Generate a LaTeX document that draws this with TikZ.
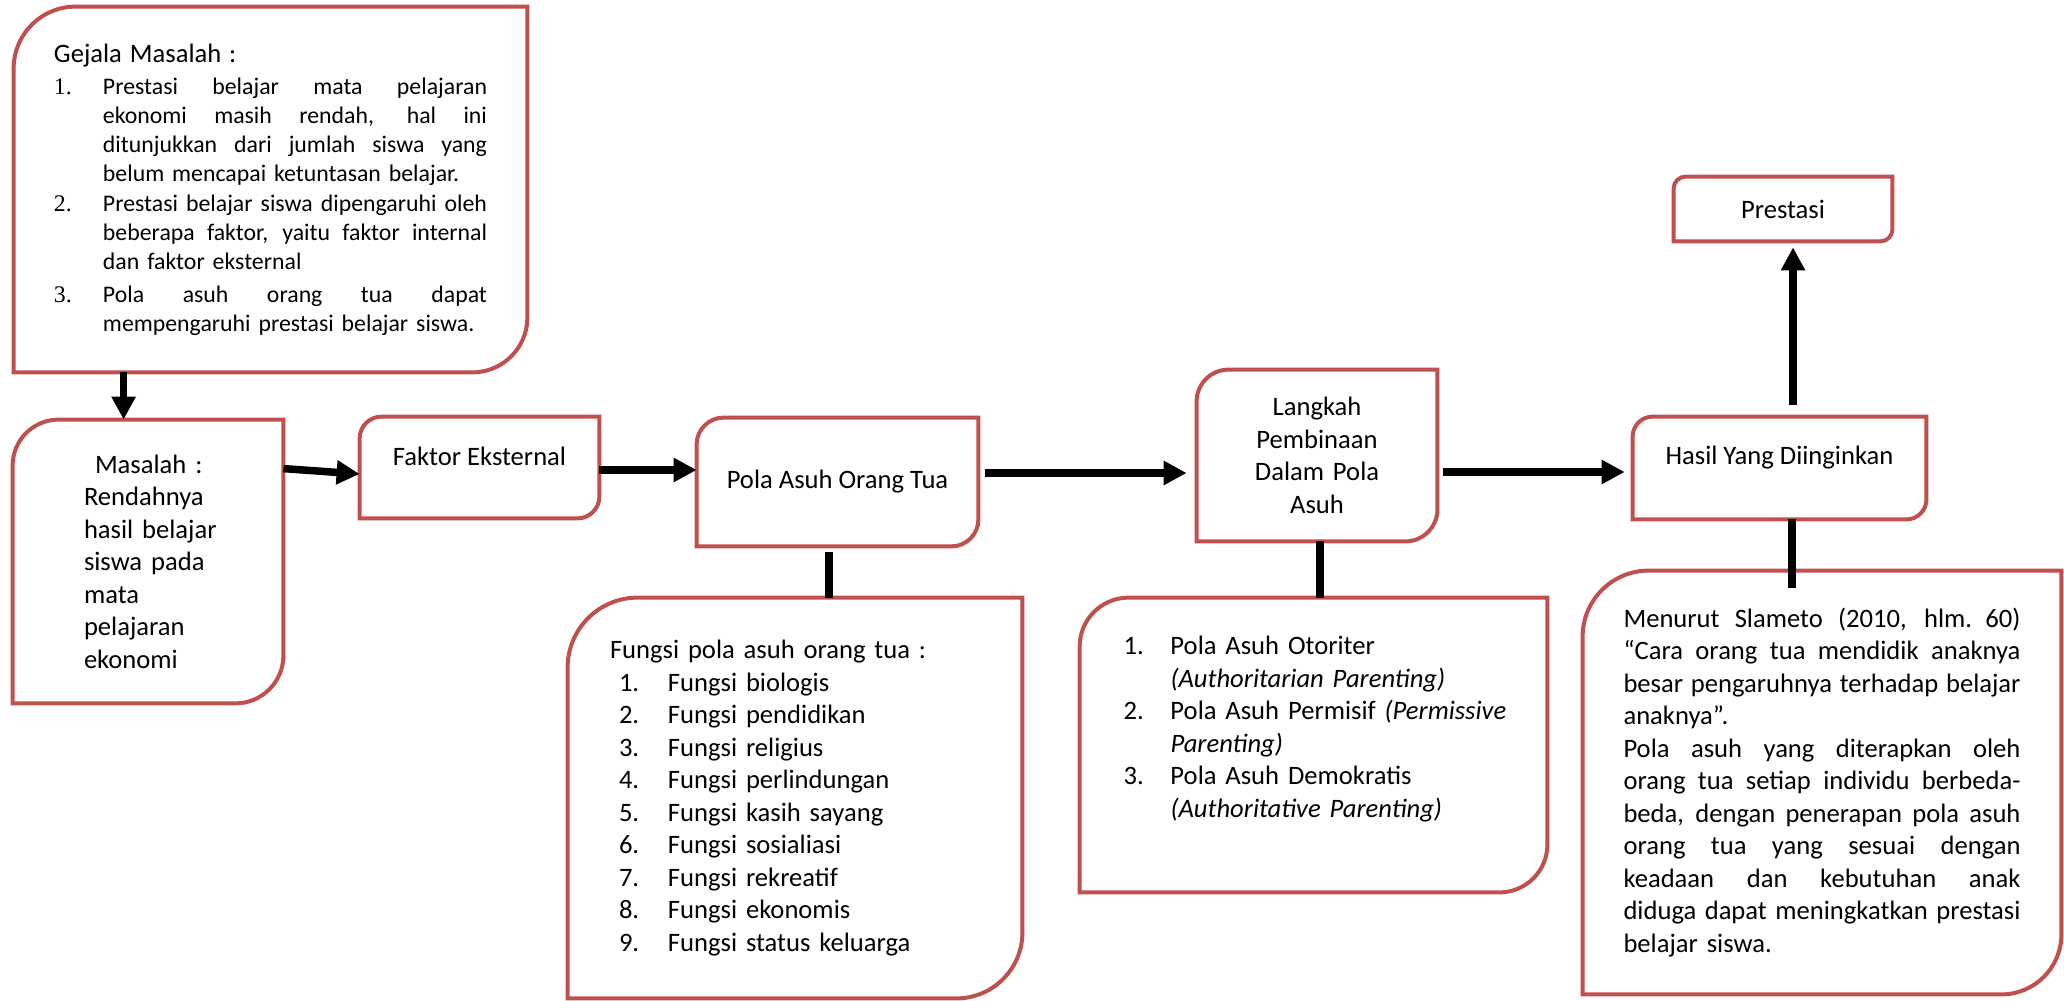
\documentclass[tikz,border=0pt]{standalone}
\usepackage{fontspec}
\setmainfont{Carlito}
\newfontfamily\numfont{Liberation Serif}
\usetikzlibrary{arrows.meta}
\definecolor{boxred}{HTML}{C0504D}
\newcommand{\bodyfont}{\fontsize{13.3pt}{16.25pt}\selectfont}
\newcommand{\gejalafont}{\fontsize{11.9pt}{14.5pt}\selectfont}
% a justified line of fixed width
\newcommand{\spread}[2]{\leavevmode\hbox to #1{\spaceskip=.226em plus 1fil\relax #2}}

\begin{document}
\begin{tikzpicture}[x=0.5pt, y=-0.5pt,
  panel/.style={inner sep=0pt, font=\bodyfont},
  boxline/.style={draw=boxred, line width=2pt},
  flow/.style={line width=3.75pt, -{Triangle[length=11.5pt, width=11.5pt]}},
  link/.style={line width=3.75pt}]
\useasboundingbox (0,0) rectangle (2064,1000);

% boxes
\node[panel, font=\gejalafont, minimum width=256.5pt, minimum height=182.5pt, text width=216.5pt] (gejala) at (270.5,189.5) {%
{\bodyfont Gejala Masalah :}\\[1.5pt]
\makebox[24.5pt][l]{\numfont 1.}\spread{192pt}{Prestasi belajar mata pelajaran}\\
\hspace*{24.5pt}\spread{192pt}{ekonomi masih rendah, hal ini}\\
\hspace*{24.5pt}\spread{192pt}{ditunjukkan dari jumlah siswa yang}\\
\hspace*{24.5pt}belum mencapai ketuntasan belajar.\\[0.5pt]
\makebox[24.5pt][l]{\numfont 2.}\spread{192pt}{Prestasi belajar siswa dipengaruhi oleh}\\
\hspace*{24.5pt}\spread{192pt}{beberapa faktor, yaitu faktor internal}\\
\hspace*{24.5pt}dan faktor eksternal\\[2pt]
\makebox[24.5pt][l]{\numfont 3.}\spread{192pt}{Pola asuh orang tua dapat}\\
\hspace*{24.5pt}mempengaruhi prestasi belajar siswa.};

\node[panel, minimum width=135pt, minimum height=141.5pt, text width=64pt] (masalah) at (148,561.5) {%
\hspace*{5.5pt}Masalah :\\Rendahnya\\\mbox{hasil belajar}\\siswa pada\\mata\\pelajaran\\ekonomi};

\node[panel, minimum width=119.5pt, minimum height=50.5pt] (faktor) at (479.5,467.5)
  {Faktor Eksternal\rule[-10.8pt]{0pt}{10.8pt}};

\node[panel, minimum width=140.5pt, minimum height=64pt] (pola) at (837.5,482) {Pola Asuh Orang Tua};

\node[panel, minimum width=120pt, minimum height=85.5pt, text width=100pt] (langkah) at (1317,455.5)
  {\centering Langkah\\Pembinaan\\Dalam Pola\\Asuh\par};

\node[panel, minimum width=146.5pt, minimum height=51pt] (hasil) at (1779.5,468)
  {Hasil Yang Diinginkan\rule[-13pt]{0pt}{13pt}};

\node[panel, minimum width=109pt, minimum height=32pt] (prestasi) at (1783,209) {Prestasi};

\node[panel, minimum width=227pt, minimum height=200pt, text width=185pt] (fungsi) at (795,798) {%
Fungsi pola asuh orang tua :\\
\hspace*{4.5pt}\makebox[24.5pt][l]{1.}Fungsi biologis\\
\hspace*{4.5pt}\makebox[24.5pt][l]{2.}Fungsi pendidikan\\
\hspace*{4.5pt}\makebox[24.5pt][l]{3.}Fungsi religius\\
\hspace*{4.5pt}\makebox[24.5pt][l]{4.}Fungsi perlindungan\\
\hspace*{4.5pt}\makebox[24.5pt][l]{5.}Fungsi kasih sayang\\
\hspace*{4.5pt}\makebox[24.5pt][l]{6.}Fungsi sosialiasi\\
\hspace*{4.5pt}\makebox[24.5pt][l]{7.}Fungsi rekreatif\\
\hspace*{4.5pt}\makebox[24.5pt][l]{8.}Fungsi ekonomis\\
\hspace*{4.5pt}\makebox[24.5pt][l]{9.}Fungsi status keluarga};

\node[panel, minimum width=233.5pt, minimum height=147pt, text width=190pt] (jenis) at (1313.5,745) {%
\makebox[23.5pt][l]{1.}Pola Asuh Otoriter\\
\hspace*{23.5pt}\textit{(Authoritarian Parenting)}\\
\makebox[23.5pt][l]{2.}\mbox{Pola Asuh Permisif \textit{(Permissive}}\\
\hspace*{23.5pt}\textit{Parenting)}\\
\makebox[23.5pt][l]{3.}Pola Asuh Demokratis\\
\hspace*{23.5pt}\textit{(Authoritative Parenting)}\rule[-18pt]{0pt}{18pt}};

\node[panel, minimum width=239pt, minimum height=211.5pt, text width=198.5pt] (slameto) at (1822,782.5) {%
\spread{198.5pt}{Menurut Slameto (2010, hlm. 60)}\\
\spread{198.5pt}{“Cara orang tua mendidik anaknya}\\
\spread{198.5pt}{besar pengaruhnya terhadap belajar}\\
anaknya”.\\
\spread{198.5pt}{Pola asuh yang diterapkan oleh}\\
\spread{198.5pt}{orang tua setiap individu berbeda-}\\
\spread{198.5pt}{beda, dengan penerapan pola asuh}\\
\spread{198.5pt}{orang tua yang sesuai dengan}\\
\spread{198.5pt}{keadaan dan kebutuhan anak}\\
\spread{198.5pt}{diduga dapat meningkatkan prestasi}\\
belajar siswa.};

% outlines: rounded top-left and bottom-right only
\foreach \n/\ra/\rb in {gejala/31pt/27.5pt, masalah/23pt/24pt, faktor/11pt/11pt,
    pola/13.5pt/13.5pt, langkah/16pt/16pt, hasil/10pt/10pt, prestasi/6pt/6pt,
    fungsi/35pt/33pt, jenis/24.5pt/24pt, slameto/33pt/30pt}
  \draw[boxline] (\n.north east) -- ([yshift=\rb]\n.south east)
    arc[start angle=0, end angle=-90, radius=\rb] -- (\n.south west)
    -- ([yshift=-\ra]\n.north west) arc[start angle=180, end angle=90, radius=\ra] -- cycle;

% connectors
\draw[flow] ([xshift=55pt]gejala.south west) -- ([xshift=55.5pt]masalah.north west);
\draw[flow] ([yshift=-24.5pt]masalah.north east) -- ([yshift=-3.25pt]faktor.west);
\draw[flow] ([yshift=-1.25pt]faktor.east) -- ([yshift=-1.25pt]faktor.east -| pola.west);
\draw[flow] ([xshift=3.5pt,yshift=4.5pt]pola.east) -- ([xshift=-5pt,yshift=-8.75pt]langkah.west);
\draw[flow] ([xshift=3pt,yshift=-8.25pt]langkah.east) -- ([xshift=-4pt,yshift=-2pt]hasil.west);
\draw[flow] ([xshift=6.75pt,yshift=6pt]hasil.north) -- ([xshift=5pt,yshift=-3pt]prestasi.south);
\draw[link] ([xshift=-4.25pt,yshift=-3pt]pola.south) -- ([xshift=17pt]fungsi.north);
\draw[link] ([xshift=1.5pt]langkah.south) -- ([xshift=3.25pt]jenis.north);
\draw[link] ([xshift=6.25pt]hasil.south) -- ([xshift=-15pt,yshift=-8.5pt]slameto.north);
\end{tikzpicture}
\end{document}
